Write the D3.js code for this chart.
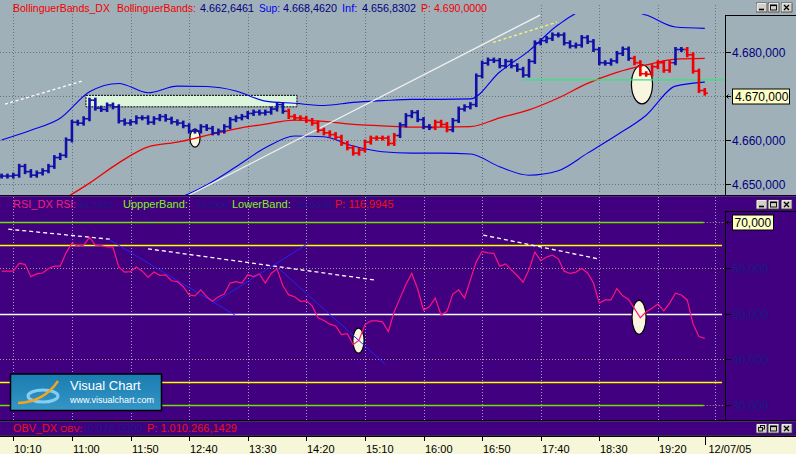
<!DOCTYPE html>
<html><head><meta charset="utf-8">
<script src="https://cdn.jsdelivr.net/npm/d3@7/dist/d3.min.js"></script>
<style>
html,body{margin:0;padding:0;background:#A0B0B8;overflow:hidden}
svg{display:block}
text{font-family:"Liberation Sans",Arial,sans-serif}
</style></head><body>
<svg id="chart" width="796" height="454"></svg>
<script>
// ---------------- DATA ----------------
// 5-minute bars, minute offset from 10:00 = index*5
const barStepMinutes = 5;
const priceCloses = [
 4651.8,4651.8,4652.0,4654.0,4652.8,4652.0,4652.5,4653.0,4654.0,4656.0,
 4656.5,4660.0,4664.0,4663.8,4664.8,4669.0,4667.2,4666.9,4667.9,4667.5,
 4664.3,4663.8,4664.1,4665.0,4665.0,4664.0,4664.8,4665.3,4664.7,4664.1,
 4663.8,4663.2,4662.0,4662.0,4663.0,4662.6,4661.6,4662.0,4663.0,4664.6,
 4665.0,4665.3,4666.0,4666.3,4666.1,4666.3,4667.0,4668.0,4666.5,4665.3,
 4665.0,4664.9,4664.4,4663.8,4662.2,4661.6,4661.2,4660.6,4659.2,4658.2,
 4657.0,4657.7,4659.5,4660.4,4660.4,4660.4,4659.2,4661.0,4663.4,4665.5,
 4666.2,4664.6,4663.0,4662.8,4664.0,4663.5,4662.3,4664.4,4667.0,4667.5,
 4668.0,4674.5,4677.4,4678.1,4678.0,4676.8,4677.8,4676.8,4676.0,4674.7,
 4677.8,4682.0,4682.5,4683.0,4683.8,4683.8,4682.0,4681.3,4681.5,4683.2,
 4682.3,4680.5,4677.5,4677.4,4677.9,4679.6,4680.6,4678.5,4677.5,4675.0,
 4674.9,4676.6,4677.5,4675.8,4677.5,4680.5,4680.5,4679.3,4675.6,4671.2,
 4670.6];
// bar index spans where the bars are painted in the bearish colour
const bearishSpans = [[49,67],[74,76],[108,114],[117,120]];

// Bollinger bands sampled every 25 minutes (minute = k*25)
const bandStepMinutes = 25;
const bandUpper = [4660.0,4662.2,4664.9,4670.9,4672.8,4670.7,4672.2,4672.1,4671.1,4668.8,4668.3,4667.8,4668.5,4668.9,4669.2,4669.2,4669.3,4675.4,4680.2,4686.1,4689.5,4689.7,4688.3,4685.6,4685.3];
const bandMid   = [4638.0,4642.3,4646.1,4650.2,4654.8,4658.4,4659.5,4661.0,4662.5,4663.6,4664.5,4664.2,4663.5,4663.2,4662.9,4662.9,4663.0,4665.0,4666.8,4669.5,4672.8,4675.3,4677.0,4678.3,4678.5];
const bandLower = [4616.0,4622.3,4627.3,4629.6,4636.6,4645.9,4646.8,4649.8,4653.9,4658.2,4660.9,4660.7,4658.6,4657.3,4657.0,4657.0,4656.8,4653.9,4652.0,4653.0,4657.0,4661.1,4665.6,4672.2,4673.1];

const rsiValues = [
 59.3,59.3,59.3,61.0,60.8,58.1,58.7,58.9,59.9,60.4,
 60.4,63.3,65.4,64.8,65.0,66.7,65.0,64.9,64.6,64.6,
 60.2,59.1,59.2,60.2,59.3,58.0,59.1,58.4,58.5,57.2,
 57.0,55.9,54.1,53.9,55.2,53.7,52.7,53.7,54.3,56.7,
 57.0,56.7,58.5,58.1,58.7,56.7,58.8,59.8,56.1,54.1,
 53.7,52.7,52.8,51.7,49.1,48.5,47.7,47.3,45.4,45.6,
 43.2,44.2,47.6,48.4,48.4,48.2,46.1,50.4,53.4,56.4,
 58.8,55.4,50.8,51.5,53.4,49.7,50.5,54.3,55.2,53.4,
 57.4,61.4,63.6,63.3,63.2,60.4,60.9,59.6,58.3,56.9,
 59.6,63.5,61.6,62.4,62.8,62.0,59.3,58.8,59.1,59.9,
 58.9,56.7,52.3,53.0,53.0,55.5,53.9,53.1,51.1,49.1,
 50.4,51.2,52.1,50.6,52.3,54.5,54.1,53.0,47.7,45.0,
 44.6];

const timeTickMinutes = [10,60,110,160,210,260,310,360,410,460,510,560];
const timeTickLabels = ["10:10","11:00","11:50","12:40","13:30","14:20","15:10","16:00","16:50","17:40","18:30","19:20"];
const dayBreakMinute = 600, dayBreakLabel = "12/07/05", nextGridMinute = 609;

const priceTicks = [4650,4660,4670,4680];
const lastPriceMark = 4670;
const rsiTicks = [30,40,50,60];
const rsiMark = 70;
const rsiGridLevels = [40,60];
const rsiUpper = 70, rsiLower = 30, rsiBandHi = 65, rsiBandLo = 35, rsiMidLevel = 50;

// drawn annotations, in (minute, value) units
const supportLine = [[156.5,4647.0],[459.4,4688.3]];
const dashedPriceLine = [[2.9,4668.1],[69.5,4673.4]];
const yellowDashLine = [[419.3,4682.1],[473.9,4686.7]];
const greenLevel = [[444.9,4673.6],[617.2,4673.6]];
const zoneBox = [[72.0,4670.1],[252.0,4667.5]];
const priceEllipses = [[165.0,4660.4,4.3,2.04],[546.4,4672.6,9.0,4.42]];
const rsiDashLines = [[[5.7,68.5],[92.5,66.3]],[[124.9,64.2],[317.7,57.4]],[[411.0,67.2],[509.1,62.0]]];
const rsiTrendLines = [[[92.5,66.1],[199.1,49.7]],[[180.6,52.3],[261.7,65.4]],[[235.0,60.2],[327.1,39.0]]];
const rsiEllipses = [[304.5,44.1,4.8,2.74],[543.9,49.2,6.0,3.72]];

// header values
const bbTitle = ["BollinguerBands_DX","BollinguerBands:"];
const bbValues = [4662.6461, 4668.4620, 4656.8302, 4690.0];
const rsiHeaderValues = [46.7557, 70.0, 30.0, 116.9945];
const obvHeaderValues = [-6076.0, 1010266.1429];

// ---------------- DRAW ----------------
const svg = d3.select("#chart");
const loc = d3.formatLocale({decimal:",", thousands:".", grouping:[3], currency:["",""], minus:"-"});
const f3 = loc.format(",.3f"), f4 = loc.format(",.4f");

const x  = d3.scaleLinear().domain([0,600]).range([1.6,704.8]);
const yP = d3.scaleLinear().domain([4650,4680]).range([184,51.7]);
const yR = d3.scaleLinear().domain([30,70]).range([405,222.3]);
const PR = 725;
const crisp = v => Math.round(v)+0.5;

const defs = svg.append("defs");
defs.append("clipPath").attr("id","clipTop").append("rect").attr("x",0).attr("y",14).attr("width",PR).attr("height",181);
defs.append("clipPath").attr("id","clipRsi").append("rect").attr("x",0).attr("y",197).attr("width",PR).attr("height",223);
const grad = defs.append("linearGradient").attr("id","logoGrad").attr("x1",0).attr("y1",0).attr("x2",0).attr("y2",1);
grad.append("stop").attr("offset","0%").attr("stop-color","#1A7CB0");
grad.append("stop").attr("offset","100%").attr("stop-color","#3497C6");

// backgrounds
svg.append("rect").attr("x",0).attr("y",0).attr("width",796).attr("height",195).attr("fill","#A0B0B8");
svg.append("rect").attr("x",0).attr("y",195).attr("width",796).attr("height",1.5).attr("fill","#12002A");
svg.append("rect").attr("x",0).attr("y",196.5).attr("width",796).attr("height",223.5).attr("fill","#400080");
svg.append("rect").attr("x",0).attr("y",420).attr("width",796).attr("height",1.5).attr("fill","#000");
svg.append("rect").attr("x",0).attr("y",421.5).attr("width",796).attr("height",14).attr("fill","#400080");
svg.append("rect").attr("x",0).attr("y",435.5).attr("width",796).attr("height",1.5).attr("fill","#000");
svg.append("rect").attr("x",0).attr("y",437).attr("width",796).attr("height",17).attr("fill","#F6F6D8");

// ---- TOP PANEL GRID ----
const gridMinutes = timeTickMinutes.concat([nextGridMinute]);
gridMinutes.forEach(m=>{
  svg.append("line").attr("x1",crisp(x(m))).attr("x2",crisp(x(m))).attr("y1",5).attr("y2",194)
    .attr("stroke","#66727C").attr("stroke-dasharray","1,2");
});
priceTicks.forEach(v=>{
  svg.append("line").attr("x1",0).attr("x2",PR).attr("y1",crisp(yP(v))).attr("y2",crisp(yP(v)))
    .attr("stroke","#66727C").attr("stroke-dasharray","1,2");
});

const topG = svg.append("g").attr("clip-path","url(#clipTop)");
// zone box
topG.append("rect").attr("x",x(zoneBox[0][0])).attr("y",yP(zoneBox[0][1]))
  .attr("width",x(zoneBox[1][0])-x(zoneBox[0][0])).attr("height",yP(zoneBox[1][1])-yP(zoneBox[0][1]))
  .attr("fill","#DDF5DA").attr("stroke","#000").attr("stroke-width",1).attr("stroke-dasharray","2,1");
// ellipses
priceEllipses.forEach(e=>{
  topG.append("ellipse").attr("cx",x(e[0])).attr("cy",yP(e[1]))
    .attr("rx",x(e[0]+e[2])-x(e[0])).attr("ry",yP(e[1]-e[3])-yP(e[1]))
    .attr("fill","#F8F6E0").attr("stroke","#000").attr("stroke-width",1.2);
});
// bands
const bandLine = arr => d3.line().x((d,k)=>x(k*bandStepMinutes)).y(d=>yP(d)).curve(d3.curveMonotoneX)(arr);
topG.append("path").attr("d",bandLine(bandUpper)).attr("fill","none").attr("stroke","#0000F0").attr("stroke-width",1.1);
topG.append("path").attr("d",bandLine(bandLower)).attr("fill","none").attr("stroke","#0000F0").attr("stroke-width",1.1);
topG.append("path").attr("d",bandLine(bandMid)).attr("fill","none").attr("stroke","#F00000").attr("stroke-width",1.3);
// annotation lines
const seg = (p,sy) => `M${x(p[0][0])},${sy(p[0][1])}L${x(p[1][0])},${sy(p[1][1])}`;
topG.append("path").attr("d",seg(supportLine,yP)).attr("stroke","#F2F2F2").attr("stroke-width",1.2).attr("fill","none");
topG.append("path").attr("d",seg(dashedPriceLine,yP)).attr("stroke","#FFFFFF").attr("stroke-width",1.3).attr("stroke-dasharray","3,2.5").attr("fill","none");
topG.append("path").attr("d",seg(yellowDashLine,yP)).attr("stroke","#F8F870").attr("stroke-width",1.3).attr("stroke-dasharray","3,2.5").attr("fill","none");
topG.append("path").attr("d",seg(greenLevel,yP)).attr("stroke","#30E878").attr("stroke-width",1.3).attr("fill","none");

// price bars
const isBear = i => bearishSpans.some(s=>i>=s[0]&&i<=s[1]);
priceCloses.forEach((c,i)=>{
  const o = i>0 ? priceCloses[i-1] : c;
  const xi = x(i*barStepMinutes);
  const col = isBear(i) ? "#F00000" : "#1010A8";
  topG.append("line").attr("x1",xi).attr("x2",xi)
    .attr("y1",yP(Math.max(o,c))-2.5).attr("y2",yP(Math.min(o,c))+2.5)
    .attr("stroke",col).attr("stroke-width",2.6);
  topG.append("line").attr("x1",xi-3).attr("x2",xi).attr("y1",yP(o)).attr("y2",yP(o)).attr("stroke",col).attr("stroke-width",1.6);
  topG.append("line").attr("x1",xi).attr("x2",xi+3).attr("y1",yP(c)).attr("y2",yP(c)).attr("stroke",col).attr("stroke-width",1.6);
});

// top right axis
svg.append("line").attr("x1",PR+0.5).attr("x2",PR+0.5).attr("y1",15).attr("y2",195).attr("stroke","#000");
svg.append("line").attr("x1",PR).attr("x2",796).attr("y1",15.5).attr("y2",15.5).attr("stroke","#000");
priceTicks.forEach(v=>{
  const yy = crisp(yP(v));
  svg.append("line").attr("x1",PR+1).attr("x2",PR+6).attr("y1",yy).attr("y2",yy).attr("stroke","#000");
  if(v!==lastPriceMark){
    svg.append("text").attr("x",732).attr("y",yy+4.5).attr("font-size",12).attr("fill","#000080").text(f3(v));
  }
});
{
  const yy = crisp(yP(lastPriceMark));
  svg.append("path").attr("d",`M${PR+6},${yy}H${PR+1.5}M${PR+3.5},${yy-2}L${PR+1.5},${yy}L${PR+3.5},${yy+2}`).attr("stroke","#000").attr("fill","none");
  svg.append("rect").attr("x",732.5).attr("y",yy-7.5).attr("width",57).attr("height",15).attr("fill","#FFFFC8").attr("stroke","#000");
  svg.append("text").attr("x",735).attr("y",yy+4.5).attr("font-size",12).attr("fill","#000").text(f3(lastPriceMark));
}

// header text helper: font size fitted so the segment spans the width it has in the picture
const hdr = (tx,xx,yy,col,w) => {
  const t = svg.append("text").attr("x",xx).attr("y",yy).attr("font-size",11).attr("fill",col).text(tx);
  if(w){
    const nat = t.node().getComputedTextLength();
    if(nat > w) t.attr("font-size", (11*w/nat).toFixed(2));
  }
  return t;
};
hdr(bbTitle[0],13,12,"#F00000",97);
hdr(bbTitle[1],117,12,"#F00000",79);
hdr(f4(bbValues[0]),200,12,"#000080",54);
hdr("Sup:",259,12,"#0000F0",21);
hdr(f4(bbValues[1]),283,12,"#000080",54);
hdr("Inf:",342,12,"#0000F0",17);
hdr(f4(bbValues[2]),362,12,"#000080",54);
hdr("P: "+f4(bbValues[3]),421,12,"#F00000",66);

// ---- RSI PANEL ----
gridMinutes.forEach(m=>{
  svg.append("line").attr("x1",crisp(x(m))).attr("x2",crisp(x(m))).attr("y1",197).attr("y2",420)
    .attr("stroke","#A898D0").attr("stroke-dasharray","1,2");
});
rsiGridLevels.forEach(v=>{
  svg.append("line").attr("x1",0).attr("x2",PR).attr("y1",crisp(yR(v))).attr("y2",crisp(yR(v)))
    .attr("stroke","#A09C80").attr("stroke-dasharray","1,2");
});
[rsiUpper,rsiLower].forEach(v=>{
  svg.append("line").attr("x1",x(dayBreakMinute)-1).attr("x2",PR).attr("y1",crisp(yR(v))).attr("y2",crisp(yR(v)))
    .attr("stroke","#A09C80").attr("stroke-dasharray","1,2");
});
const rsiG = svg.append("g").attr("clip-path","url(#clipRsi)");
[rsiUpper,rsiLower].forEach(v=>{
  rsiG.append("line").attr("x1",0).attr("x2",x(dayBreakMinute)-1).attr("y1",crisp(yR(v))).attr("y2",crisp(yR(v))).attr("stroke","#70E000").attr("stroke-width",1.3);
});
[rsiBandHi,rsiBandLo].forEach(v=>{
  rsiG.append("line").attr("x1",0).attr("x2",722).attr("y1",crisp(yR(v))).attr("y2",crisp(yR(v))).attr("stroke","#FFFF00").attr("stroke-width",1.3);
});
rsiG.append("line").attr("x1",0).attr("x2",722).attr("y1",crisp(yR(rsiMidLevel))).attr("y2",crisp(yR(rsiMidLevel))).attr("stroke","#FFFFFF").attr("stroke-width",1.3);

rsiEllipses.forEach(e=>{
  rsiG.append("ellipse").attr("cx",x(e[0])).attr("cy",yR(e[1]))
    .attr("rx",x(e[0]+e[2])-x(e[0])).attr("ry",yR(e[1]-e[3])-yR(e[1]))
    .attr("fill","#F8F6E0").attr("stroke","#000").attr("stroke-width",1.2);
});
rsiDashLines.forEach(l=>{
  rsiG.append("path").attr("d",seg(l,yR)).attr("stroke","#FFFFFF").attr("stroke-width",1.3).attr("stroke-dasharray","4,3").attr("fill","none");
});
rsiTrendLines.forEach(l=>{
  rsiG.append("path").attr("d",seg(l,yR)).attr("stroke","#2424F0").attr("stroke-width",1).attr("fill","none");
});
rsiG.append("path").attr("d",d3.line().x((d,i)=>x(i*barStepMinutes)).y(d=>yR(d))(rsiValues))
  .attr("fill","none").attr("stroke","#FF1280").attr("stroke-width",1.2);

// RSI right axis
svg.append("line").attr("x1",PR+0.5).attr("x2",PR+0.5).attr("y1",211.5).attr("y2",420).attr("stroke","#000");
svg.append("line").attr("x1",PR).attr("x2",796).attr("y1",211.5).attr("y2",211.5).attr("stroke","#000");
rsiTicks.forEach(v=>{
  const yy = crisp(yR(v));
  svg.append("line").attr("x1",PR+1).attr("x2",PR+6).attr("y1",yy).attr("y2",yy).attr("stroke","#000");
  svg.append("text").attr("x",732).attr("y",yy+4.5).attr("font-size",12).attr("fill","#1A1A86").text(f3(v));
});
{
  const yy = crisp(yR(rsiMark));
  svg.append("path").attr("d",`M${PR+6},${yy}H${PR+1.5}M${PR+3.5},${yy-2}L${PR+1.5},${yy}L${PR+3.5},${yy+2}`).attr("stroke","#000").attr("fill","none");
  svg.append("rect").attr("x",732.5).attr("y",yy-7.5).attr("width",41).attr("height",15).attr("fill","#FFFFC8").attr("stroke","#000");
  svg.append("text").attr("x",734.5).attr("y",yy+4.5).attr("font-size",12).attr("fill","#000").text(f3(rsiMark));
}

// RSI header
hdr("RSI_DX",13,208,"#F0207A",40);
hdr("RSI:",56,208,"#F0207A",20);
hdr(f4(rsiHeaderValues[0]),78,208,"#1A1A86",36);
hdr("UppperBand:",123,208,"#80F020",68);
hdr(f4(rsiHeaderValues[1]),196,208,"#1A1A86",32);
hdr("LowerBand:",232,208,"#80F020",60);
hdr(f4(rsiHeaderValues[2]),296,208,"#1A1A86",36);
hdr("P: "+f4(rsiHeaderValues[3]),335,208,"#F01010",62);

// logo
{
  const g = svg.append("g");
  g.append("rect").attr("x",10.5).attr("y",374).attr("width",151).attr("height",36.5).attr("fill","url(#logoGrad)").attr("stroke","#000").attr("stroke-width",1.5);
  g.append("ellipse").attr("cx",43).attr("cy",396).attr("rx",15).attr("ry",6).attr("fill","none").attr("stroke","#86CDF2").attr("stroke-width",3);
  g.append("path").attr("d","M18,403 Q44,402 58,381").attr("fill","none").attr("stroke","#F2A620").attr("stroke-width",2.4);
  g.append("text").attr("x",70).attr("y",390).attr("font-size",13).attr("fill","#FFFFFF").text("Visual Chart");
  g.append("text").attr("x",70).attr("y",403).attr("font-size",9).attr("fill","#FFFFFF").text("www.visualchart.com");
}

// OBV header
hdr("OBV_DX",13,432,"#F01010",44);
hdr("OBV:",60,432,"#F01010",22);
hdr(f4(obvHeaderValues[0]),84,432,"#1A1A86",60);
hdr("P: "+f4(obvHeaderValues[1]),147,432,"#F01010",92);

// time axis
timeTickMinutes.forEach((m,k)=>{
  const xx = crisp(x(m));
  svg.append("line").attr("x1",xx).attr("x2",xx).attr("y1",437).attr("y2",441).attr("stroke","#000");
  svg.append("text").attr("x",xx+0.5).attr("y",452.5).attr("font-size",11).attr("fill","#000").text(timeTickLabels[k]);
});
{
  const xx = crisp(x(dayBreakMinute));
  svg.append("line").attr("x1",xx).attr("x2",xx).attr("y1",437).attr("y2",445).attr("stroke","#000");
  svg.append("text").attr("x",xx+3).attr("y",452.5).attr("font-size",11).attr("fill","#000").text(dayBreakLabel);
}

// window buttons
function winButtons(y, first){
  [756,768,781].forEach((bx,k)=>{
    const t = k===0 ? first : (k===1 ? "max" : "close");
    const g = svg.append("g");
    g.append("rect").attr("x",bx+0.5).attr("y",y+0.5).attr("width",10.5).attr("height",9).attr("fill","#D4D0C8").attr("stroke","#404040").attr("stroke-width",0.8);
    g.append("path").attr("d",`M${bx+1},${y+9} V${y+1} H${bx+10.5}`).attr("stroke","#FFF").attr("fill","none").attr("stroke-width",0.8);
    if(t==="min") g.append("rect").attr("x",bx+3).attr("y",y+6.2).attr("width",5).attr("height",1.6).attr("fill","#000");
    if(t==="max"){ g.append("rect").attr("x",bx+2.5).attr("y",y+2.5).attr("width",6).attr("height",5).attr("fill","none").attr("stroke","#000").attr("stroke-width",0.9);
      g.append("line").attr("x1",bx+2.5).attr("x2",bx+8.5).attr("y1",y+3).attr("y2",y+3).attr("stroke","#000").attr("stroke-width",1.2);}
    if(t==="close") g.append("path").attr("d",`M${bx+3},${y+2.5}L${bx+8},${y+7.5}M${bx+8},${y+2.5}L${bx+3},${y+7.5}`).attr("stroke","#000").attr("stroke-width",1.3);
    if(t==="restore"){ g.append("rect").attr("x",bx+4.5).attr("y",y+2).attr("width",4).attr("height",3.5).attr("fill","none").attr("stroke","#000").attr("stroke-width",0.9);
      g.append("rect").attr("x",bx+2.5).attr("y",y+4).attr("width",4).attr("height",3.5).attr("fill","#D4D0C8").attr("stroke","#000").attr("stroke-width",0.9);}
  });
}
winButtons(2.5,"min");
winButtons(199.5,"min");
winButtons(423.5,"restore");
</script></body></html>
